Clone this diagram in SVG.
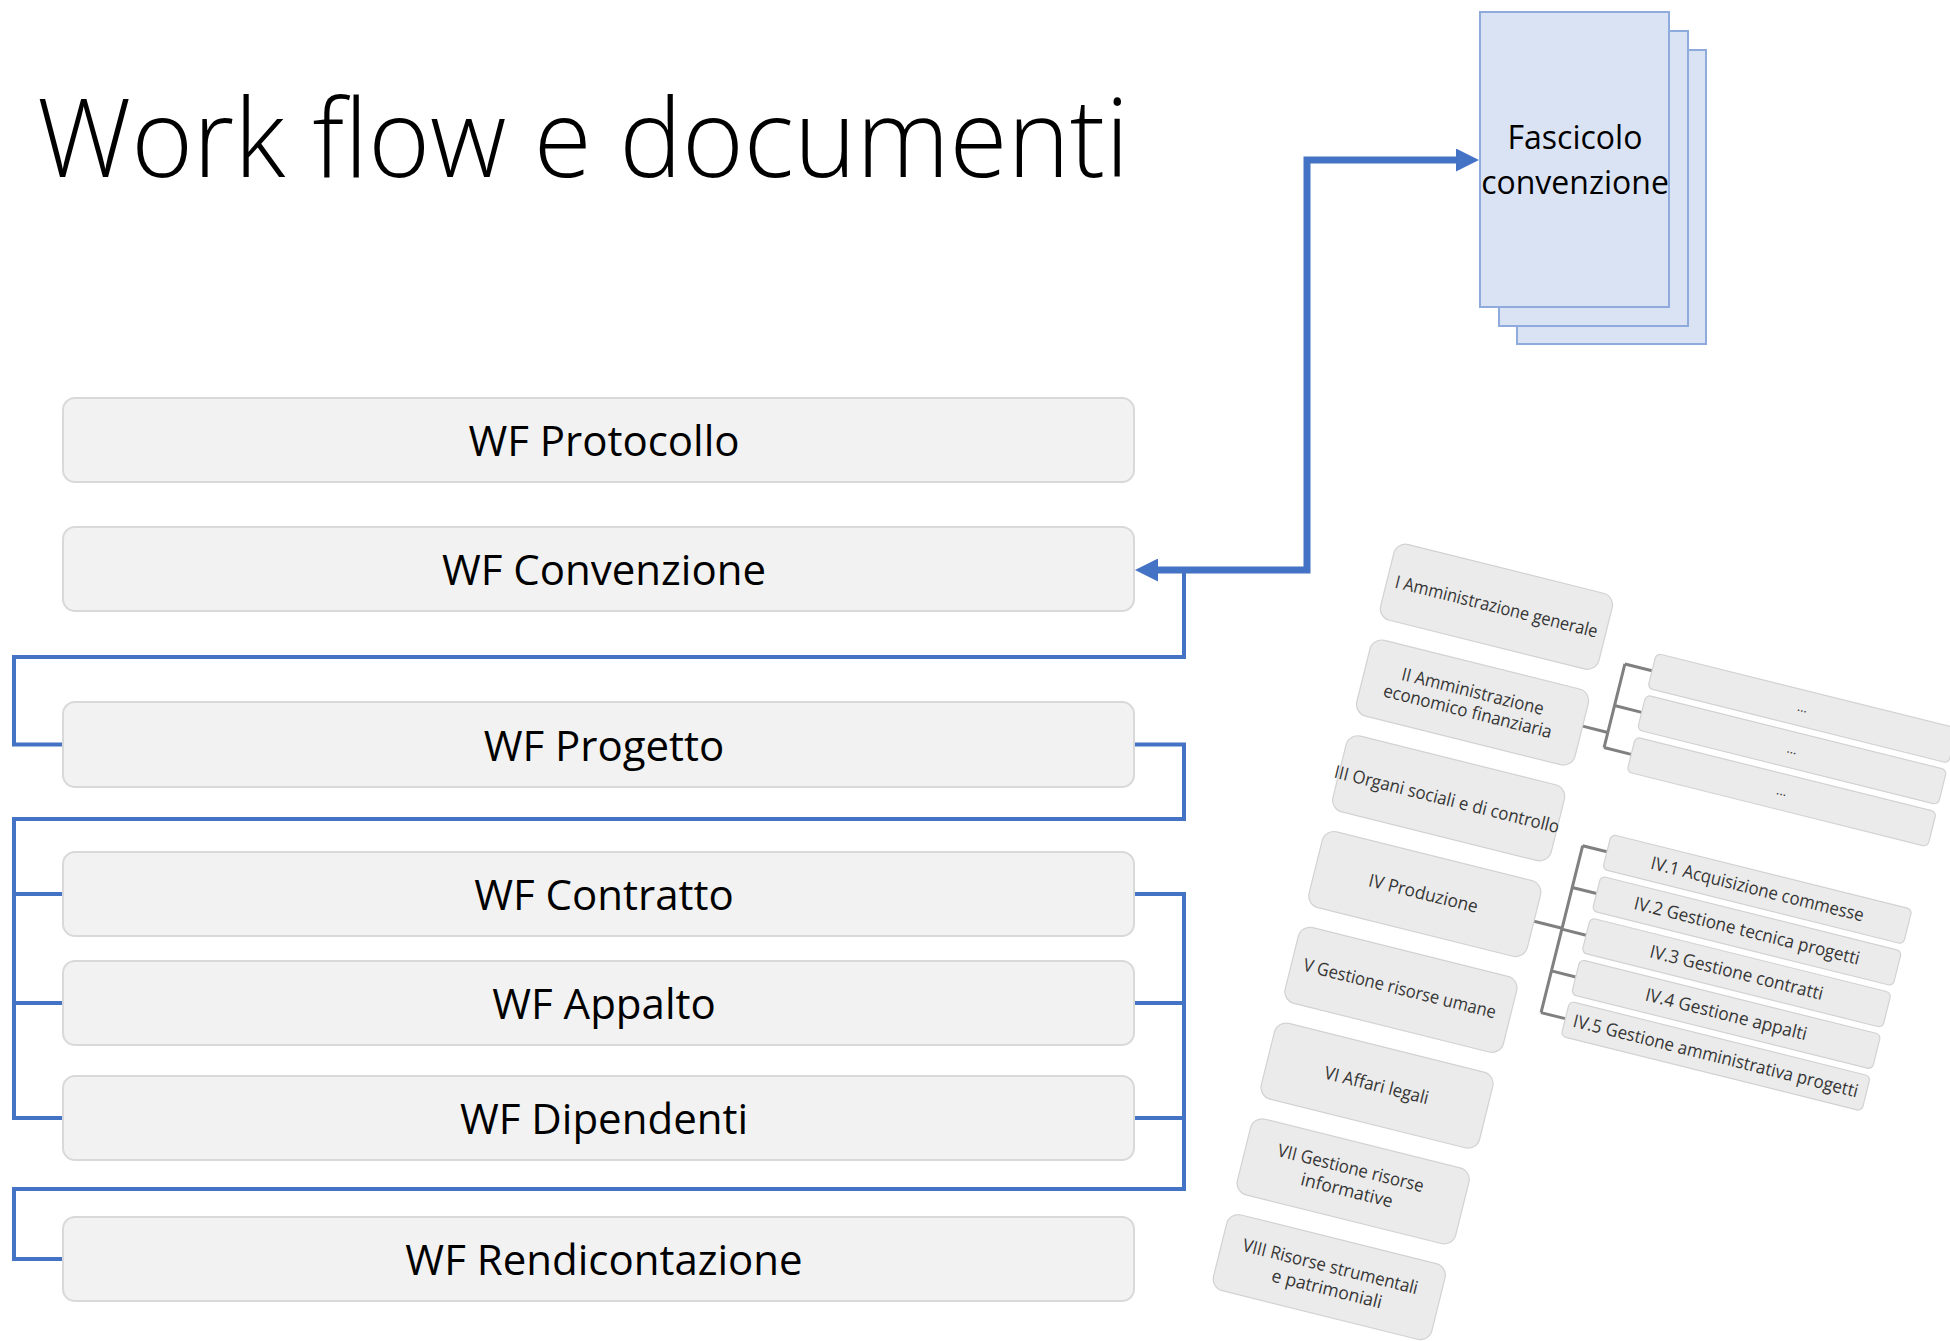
<svg xmlns="http://www.w3.org/2000/svg" width="1950" height="1341" viewBox="0 0 1950 1341">
<style>
.bg{fill:#ffffff}
.title{font-family:"Open Sans","Liberation Sans",sans-serif;font-weight:300;font-size:108px;fill:#000}
.wf rect{fill:#f2f2f2;stroke:#d9d9d9;stroke-width:2}
.wf text{font-family:"Open Sans","Liberation Sans",sans-serif;font-size:42px;fill:#000;text-anchor:middle}
.doc rect{fill:#dae3f3;stroke:#8faadc;stroke-width:2}
.doc text{font-family:"Open Sans","Liberation Sans",sans-serif;font-size:32px;fill:#000;text-anchor:middle}
.conn{fill:none;stroke:#4472c4;stroke-width:4;stroke-linejoin:miter}
.thick{stroke-width:7}
.ob rect{fill:#ebebeb;stroke:#d2d2d2;stroke-width:1.2}
.ob text{font-family:"Open Sans","Liberation Sans",sans-serif;font-size:18px;fill:#363636;text-anchor:middle}
.ob text.dots{font-size:13px}
.oc{fill:none;stroke:#808080;stroke-width:3}
</style>
<defs>
<marker id="ah" viewBox="0 0 23 23" refX="0" refY="11.5" markerWidth="23" markerHeight="23" markerUnits="userSpaceOnUse" orient="auto-start-reverse">
<path d="M0,0 L23,11.5 L0,23 Z" fill="#4472c4"/>
</marker>
</defs>
<rect class="bg" x="0" y="0" width="1950" height="1341"/>
<text class="title" x="37" y="177" textLength="1092" lengthAdjust="spacingAndGlyphs">Work flow e documenti</text>

<g id="connectors">
<path class="conn thick" d="M1158,570 H1307 V160 H1456" marker-start="url(#ah)" marker-end="url(#ah)"/>
<path class="conn" d="M1184,570 V657 H14 V744.5 H63"/>
<path class="conn" d="M1134,744.5 H1184 V819 H14 V1118 H63 M14,894 H63 M14,1003 H63"/>
<path class="conn" d="M1134,894 H1184 V1189 H14 V1259 H63 M1134,1003 H1184 M1134,1118 H1184"/>
</g>

<g id="wf-protocollo" class="wf"><rect x="63" y="398" width="1071" height="84" rx="12"/><text x="604" y="456">WF Protocollo</text></g>
<g id="wf-convenzione" class="wf"><rect x="63" y="527" width="1071" height="84" rx="12"/><text x="604" y="585">WF Convenzione</text></g>
<g id="wf-progetto" class="wf"><rect x="63" y="702" width="1071" height="85" rx="12"/><text x="604" y="760.5">WF Progetto</text></g>
<g id="wf-contratto" class="wf"><rect x="63" y="852" width="1071" height="84" rx="12"/><text x="604" y="910">WF Contratto</text></g>
<g id="wf-appalto" class="wf"><rect x="63" y="961" width="1071" height="84" rx="12"/><text x="604" y="1019">WF Appalto</text></g>
<g id="wf-dipendenti" class="wf"><rect x="63" y="1076" width="1071" height="84" rx="12"/><text x="604" y="1134">WF Dipendenti</text></g>
<g id="wf-rendicontazione" class="wf"><rect x="63" y="1217" width="1071" height="84" rx="12"/><text x="604" y="1275">WF Rendicontazione</text></g>

<g id="fascicolo" class="doc">
<rect x="1517" y="50" width="189" height="294"/>
<rect x="1499" y="31" width="189" height="295"/>
<rect x="1480" y="12" width="189" height="295"/>
<text x="1575" y="149">Fascicolo</text>
<text x="1575" y="194">convenzione</text>
</g>

<g id="titolario" transform="translate(1396.7 541.7) rotate(14)">
<g id="org-connectors">
<path class="oc" d="M225,134 H251 M251,63.4 V149.6 M251,63.4 H279 M251,106.3 H279 M251,149.6 H279"/>
<path class="oc" d="M225,335 H254 M254,250 V422 M254,250 H279 M254,293 H279 M254,336 H279 M254,379 H279 M254,422 H279"/>
</g>
<g id="t1" class="ob"><rect x="0" y="0" width="225" height="78" rx="12"/><text x="112.5" y="45" textLength="208" lengthAdjust="spacingAndGlyphs">I Amministrazione generale</text></g>
<g id="t2" class="ob"><rect x="0" y="98.7" width="225" height="78" rx="12"/><text x="110" y="133" textLength="146" lengthAdjust="spacingAndGlyphs">II Amministrazione</text><text x="110" y="153.5" textLength="173" lengthAdjust="spacingAndGlyphs">economico finanziaria</text></g>
<g id="t3" class="ob"><rect x="0" y="197.4" width="225" height="78" rx="12"/><text x="111" y="244" textLength="231" lengthAdjust="spacingAndGlyphs">III Organi sociali e di controllo</text></g>
<g id="t4" class="ob"><rect x="0" y="296.1" width="225" height="78" rx="12"/><text x="111" y="341" textLength="112" lengthAdjust="spacingAndGlyphs">IV Produzione</text></g>
<g id="t5" class="ob"><rect x="0" y="394.8" width="225" height="78" rx="12"/><text x="111" y="439" textLength="198" lengthAdjust="spacingAndGlyphs">V Gestione risorse umane</text></g>
<g id="t6" class="ob"><rect x="0" y="493.5" width="225" height="78" rx="12"/><text x="112" y="538.5" textLength="107" lengthAdjust="spacingAndGlyphs">VI Affari legali</text></g>
<g id="t7" class="ob"><rect x="0" y="592.2" width="225" height="78" rx="12"/><text x="107" y="625" textLength="150" lengthAdjust="spacingAndGlyphs">VII Gestione risorse</text><text x="108.5" y="647.5" textLength="94" lengthAdjust="spacingAndGlyphs">informative</text></g>
<g id="t8" class="ob"><rect x="0" y="690.9" width="225" height="78" rx="12"/><text x="111" y="725.5" textLength="180" lengthAdjust="spacingAndGlyphs">VIII Risorse strumentali</text><text x="113" y="748" textLength="113" lengthAdjust="spacingAndGlyphs">e patrimoniali</text></g>

<g id="t2-1" class="ob"><rect x="279" y="45.4" width="310" height="36" rx="5"/><text class="dots" x="434" y="67">...</text></g>
<g id="t2-2" class="ob"><rect x="279" y="88.3" width="310" height="36" rx="5"/><text class="dots" x="434" y="110">...</text></g>
<g id="t2-3" class="ob"><rect x="279" y="131.6" width="310" height="36" rx="5"/><text class="dots" x="434" y="153">...</text></g>

<g id="t4-1" class="ob"><rect x="279" y="232" width="310" height="36" rx="5"/><text x="434" y="256" textLength="219" lengthAdjust="spacingAndGlyphs">IV.1 Acquisizione commesse</text></g>
<g id="t4-2" class="ob"><rect x="279" y="275" width="310" height="36" rx="5"/><text x="434" y="299" textLength="232" lengthAdjust="spacingAndGlyphs">IV.2 Gestione tecnica progetti</text></g>
<g id="t4-3" class="ob"><rect x="279" y="318" width="310" height="36" rx="5"/><text x="434" y="342" textLength="178" lengthAdjust="spacingAndGlyphs">IV.3 Gestione contratti</text></g>
<g id="t4-4" class="ob"><rect x="279" y="361" width="310" height="36" rx="5"/><text x="434" y="385" textLength="166" lengthAdjust="spacingAndGlyphs">IV.4 Gestione appalti</text></g>
<g id="t4-5" class="ob"><rect x="279" y="404" width="310" height="36" rx="5"/><text x="434" y="428" textLength="293" lengthAdjust="spacingAndGlyphs">IV.5 Gestione amministrativa progetti</text></g>
</g>
</svg>
